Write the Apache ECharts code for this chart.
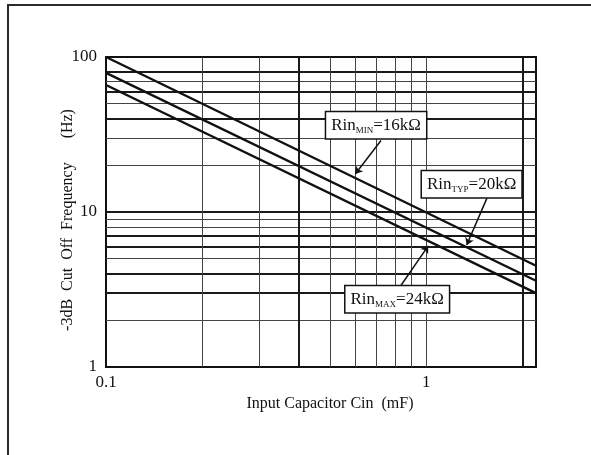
<!DOCTYPE html>
<html>
<head>
<meta charset="utf-8">
<script src="https://cdn.jsdelivr.net/npm/echarts@6/dist/echarts.min.js"></script>
</head>
<body style="margin:0;background:#fff">
<div id="main" style="width:591px;height:455px;"></div>
<script type="text/javascript">
// input capacitor (uF) at the two ends of the plot
var capX = [0.1, 2.2];
// cut off frequency (Hz) for each input resistance
var fMin = [100, 4.5];
var fTyp = [79, 3.6];
var fMax = [66, 3.0];

// grid lines drawn on the log axes
var gridYBold = [3, 4, 6, 7, 10, 40, 60, 80];
var gridYThin = [2, 5, 8, 9, 20, 30, 50, 70];
var gridXBold = [0.4, 2];
var gridXThin = [0.2, 0.3, 0.5, 0.6, 0.7, 0.8, 0.9, 1];

// annotation boxes: label parts, box centre, arrow from/to (data coords)
var notes = [
    { sub: 'MIN', val: '=16kΩ', box: [0.697, 36.3], from: [0.722, 28.9], to: [0.60, 17.6] },
    { sub: 'TYP', val: '=20kΩ', box: [1.385, 15.1], from: [1.545, 12.25], to: [1.337, 6.12] },
    { sub: 'MAX', val: '=24kΩ', box: [0.811, 2.74], from: [0.834, 3.37], to: [1.014, 6.05] }
];

var font = 'Liberation Serif';
var myChart = echarts.init(document.getElementById('main'));

function pairs(ys) {
    return capX.map(function (x, i) { return [x, ys[i]]; });
}

var bold = { width: 2, color: '#1a1a1a', type: 'solid' };
var thin = { width: 1, color: '#444', type: 'solid' };
var gridLines = [];
gridYBold.forEach(function (v) { gridLines.push({ yAxis: v, lineStyle: bold }); });
gridYThin.forEach(function (v) { gridLines.push({ yAxis: v, lineStyle: thin }); });
gridXBold.forEach(function (v) { gridLines.push({ xAxis: v, lineStyle: bold }); });
gridXThin.forEach(function (v) { gridLines.push({ xAxis: v, lineStyle: thin }); });

var curveStyle = { color: '#111', width: 2.4 };

var option = {
    animation: false,
    graphic: [
        { type: 'line', shape: { x1: 8, y1: 5, x2: 8, y2: 455 }, style: { stroke: '#2a2a2a', lineWidth: 2 } },
        { type: 'line', shape: { x1: 7, y1: 5, x2: 591, y2: 5 }, style: { stroke: '#2a2a2a', lineWidth: 2 } }
    ],
    grid: {
        left: 106, right: 55, top: 57, bottom: 88,
        show: true, borderColor: '#111', borderWidth: 2
    },
    xAxis: {
        type: 'log',
        logBase: 10,
        min: 0.1,
        max: 2.2,
        name: 'Input Capacitor Cin  (mF)',
        nameLocation: 'middle',
        nameGap: 29,
        nameMoveOverlap: false,
        nameTextStyle: { fontFamily: font, fontSize: 16, color: '#111', padding: [0, 0, 0, 18] },
        axisLine: { lineStyle: { color: '#111', width: 2 } },
        axisTick: { show: false },
        splitLine: { show: false },
        axisLabel: { showMaxLabel: false, fontFamily: font, fontSize: 17, color: '#111', margin: 7 }
    },
    yAxis: {
        type: 'log',
        logBase: 10,
        min: 1,
        max: 100,
        name: '-3dB  Cut  Off  Frequency      (Hz)',
        nameLocation: 'middle',
        nameGap: 30,
        nameMoveOverlap: false,
        nameRotate: 90,
        nameTextStyle: { fontFamily: font, fontSize: 16, color: '#111', padding: [0, 16, 0, 0] },
        axisLine: { lineStyle: { color: '#111', width: 2 } },
        axisTick: { show: false },
        splitLine: { show: false },
        axisLabel: { fontFamily: font, fontSize: 17, color: '#111', margin: 9 }
    },
    series: [
        {
            name: 'Rin MIN',
            type: 'line',
            data: pairs(fMin),
            symbol: 'none',
            lineStyle: curveStyle,
            markLine: {
                silent: true,
                z: 1,
                symbol: ['none', 'none'],
                label: { show: false },
                data: gridLines
            }
        },
        {
            name: 'Rin TYP',
            type: 'line',
            data: pairs(fTyp),
            symbol: 'none',
            lineStyle: curveStyle,
            markLine: {
                silent: true,
                symbol: ['none', 'arrow'],
                symbolSize: 7,
                label: { show: false },
                lineStyle: { color: '#111', width: 1.5, type: 'solid' },
                data: notes.map(function (n) {
                    return [{ coord: n.from }, { coord: n.to }];
                })
            }
        },
        {
            name: 'Rin MAX',
            type: 'line',
            data: pairs(fMax),
            symbol: 'none',
            lineStyle: curveStyle,
            markPoint: {
                silent: true,
                symbol: 'rect',
                symbolSize: 1,
                itemStyle: { color: 'rgba(0,0,0,0)' },
                label: {
                    show: true,
                    position: 'inside',
                    backgroundColor: '#fff',
                    borderColor: '#111',
                    borderWidth: 1.5,
                    padding: [3, 5, 3, 5],
                    rich: {
                        a: { fontFamily: font, fontSize: 17, color: '#111', lineHeight: 20 },
                        b: { fontFamily: font, fontSize: 9, color: '#111', lineHeight: 20, verticalAlign: 'bottom', padding: [8, 0, 0, 0] }
                    }
                },
                data: notes.map(function (n) {
                    return {
                        coord: n.box,
                        label: { formatter: '{a|Rin}{b|' + n.sub + '}{a|' + n.val + '}' }
                    };
                })
            }
        }
    ]
};
myChart.setOption(option);
</script>
</body>
</html>
